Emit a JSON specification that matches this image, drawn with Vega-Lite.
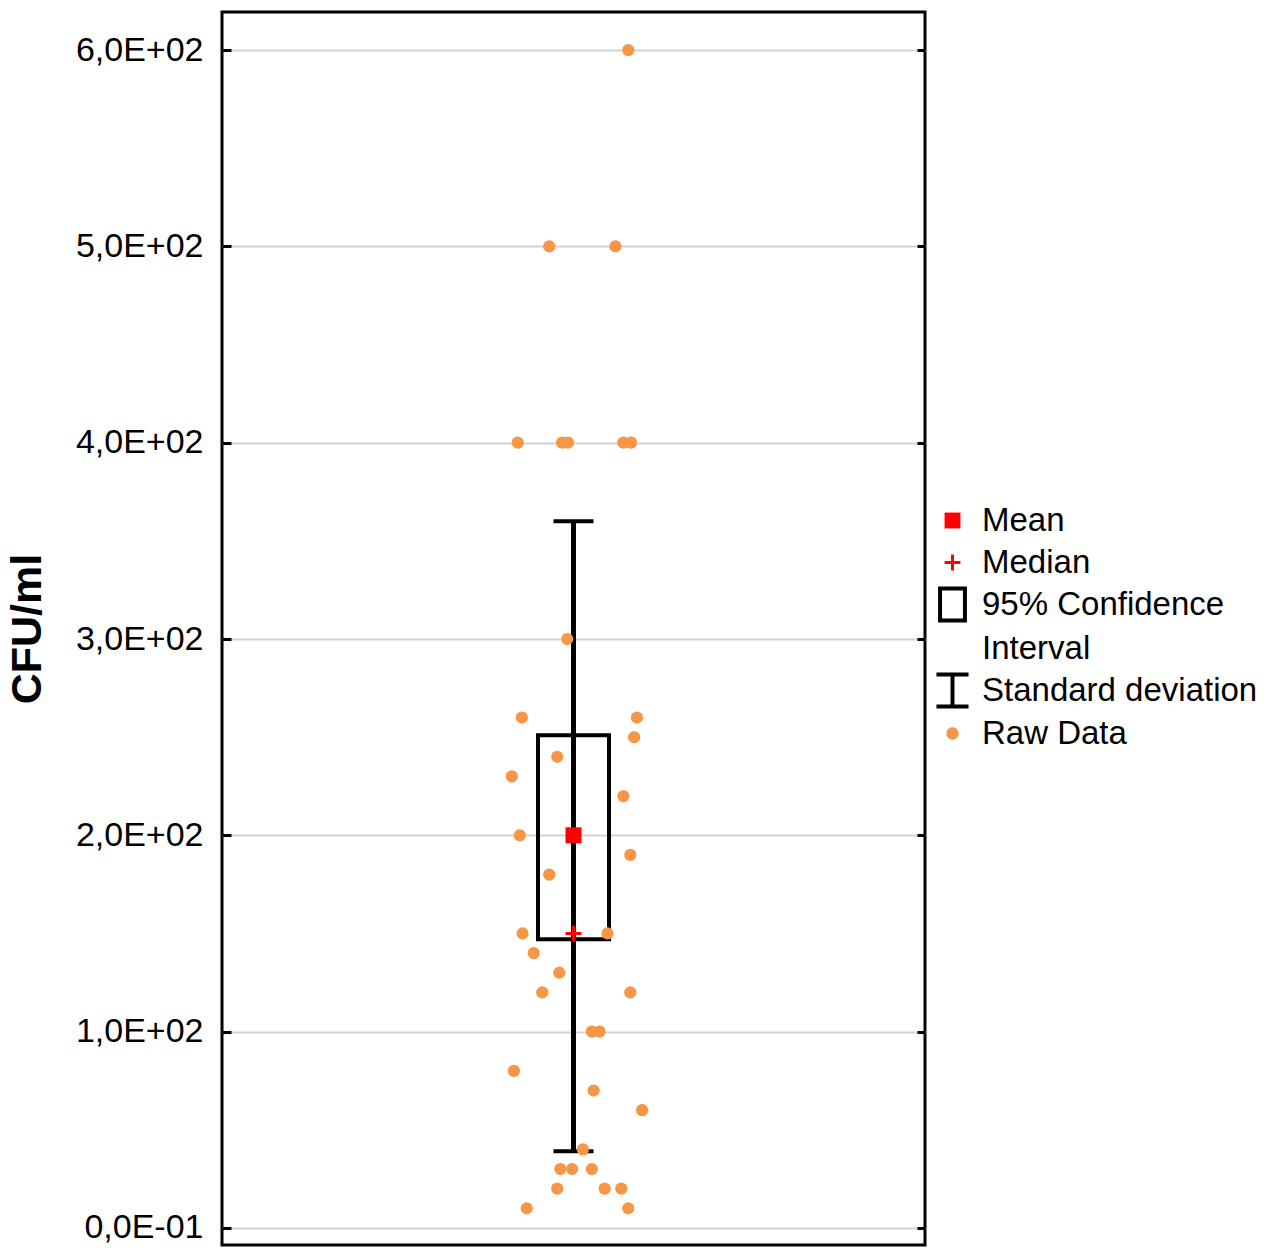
{
  "$schema": "https://vega.github.io/schema/vega-lite/v6.json",
  "autosize": {"type": "none"},
  "padding": {"left": 222, "top": 12, "right": 360, "bottom": 3},
  "width": 703,
  "height": 1233,
  "config": {
    "view": {"stroke": "black", "strokeWidth": 3},
    "font": "Liberation Sans",
    "style": {"guide-label": {"lineHeight": 44}}
  },
  "datasets": {
    "raw": [
      {"jitter": 0.158, "cfu": 600},
      {"jitter": -0.070, "cfu": 500},
      {"jitter": 0.121, "cfu": 500},
      {"jitter": -0.161, "cfu": 400},
      {"jitter": -0.033, "cfu": 400},
      {"jitter": -0.016, "cfu": 400},
      {"jitter": 0.144, "cfu": 400},
      {"jitter": 0.166, "cfu": 400},
      {"jitter": -0.018, "cfu": 300},
      {"jitter": -0.149, "cfu": 260},
      {"jitter": 0.183, "cfu": 260},
      {"jitter": 0.175, "cfu": 250},
      {"jitter": -0.047, "cfu": 240},
      {"jitter": -0.178, "cfu": 230},
      {"jitter": 0.144, "cfu": 220},
      {"jitter": -0.155, "cfu": 200},
      {"jitter": 0.164, "cfu": 190},
      {"jitter": -0.070, "cfu": 180},
      {"jitter": -0.147, "cfu": 150},
      {"jitter": 0.098, "cfu": 150},
      {"jitter": -0.115, "cfu": 140},
      {"jitter": -0.041, "cfu": 130},
      {"jitter": -0.090, "cfu": 120},
      {"jitter": 0.164, "cfu": 120},
      {"jitter": 0.053, "cfu": 100},
      {"jitter": 0.075, "cfu": 100},
      {"jitter": -0.172, "cfu": 80},
      {"jitter": 0.058, "cfu": 70},
      {"jitter": 0.198, "cfu": 60},
      {"jitter": 0.027, "cfu": 40},
      {"jitter": -0.038, "cfu": 30},
      {"jitter": -0.004, "cfu": 30},
      {"jitter": 0.053, "cfu": 30},
      {"jitter": -0.047, "cfu": 20},
      {"jitter": 0.090, "cfu": 20},
      {"jitter": 0.138, "cfu": 20},
      {"jitter": -0.135, "cfu": 10},
      {"jitter": 0.158, "cfu": 10}
    ],
    "summary": [
      {"mean": 200, "median": 150, "ci_low": 147, "ci_high": 251, "sd_low": 39, "sd_high": 360}
    ],
    "legend": [
      {"series": "Mean"},
      {"series": "Median"},
      {"series": "95% Confidence Interval"},
      {"series": "Standard deviation"},
      {"series": "Raw Data"}
    ]
  },
  "layer": [
    {
      "data": {"name": "summary"},
      "mark": {"type": "bar", "width": 71, "fill": "transparent", "stroke": "black", "strokeWidth": 4},
      "encoding": {
        "x": {"datum": 0, "type": "quantitative", "scale": {"domain": [-1, 1], "nice": false, "zero": false}, "axis": null},
        "y": {
          "field": "ci_low", "type": "quantitative",
          "scale": {"domain": [-8.7, 619.4], "nice": false, "zero": false},
          "axis": {
            "orient": "left",
            "values": [0, 100, 200, 300, 400, 500, 600],
            "labelExpr": "datum.value == 0 ? '0,0E-01' : (datum.value / 100) + ',0E+02'",
            "labelFont": "Liberation Sans",
            "labelFontSize": 34,
            "labelColor": "black",
            "labelPadding": 28,
            "tickSize": -9,
            "tickWidth": 3,
            "tickColor": "black",
            "domain": false,
            "grid": true,
            "gridColor": "#d3d3d3",
            "gridWidth": 2,
            "title": "CFU/ml",
            "titleFont": "Liberation Sans",
            "titleFontSize": 43,
            "titleFontWeight": "bold",
            "titleColor": "black",
            "titlePadding": 26
          }
        },
        "y2": {"field": "ci_high"}
      }
    },
    {
      "data": {"name": "summary"},
      "mark": {"type": "rule", "stroke": "black", "strokeWidth": 5},
      "encoding": {
        "x": {"datum": 0, "type": "quantitative"},
        "y": {"field": "sd_low", "type": "quantitative", "axis": null},
        "y2": {"field": "sd_high"}
      }
    },
    {
      "data": {"name": "summary"},
      "mark": {"type": "tick", "orient": "horizontal", "color": "black", "size": 40, "thickness": 4, "opacity": 1},
      "encoding": {
        "x": {"datum": 0, "type": "quantitative"},
        "y": {"field": "sd_high", "type": "quantitative", "axis": null}
      }
    },
    {
      "data": {"name": "summary"},
      "mark": {"type": "tick", "orient": "horizontal", "color": "black", "size": 40, "thickness": 4, "opacity": 1},
      "encoding": {
        "x": {"datum": 0, "type": "quantitative"},
        "y": {"field": "sd_low", "type": "quantitative", "axis": null}
      }
    },
    {
      "data": {"name": "raw"},
      "mark": {"type": "point", "shape": "circle", "filled": true, "size": 150, "color": "#F79646", "opacity": 1},
      "encoding": {
        "x": {"field": "jitter", "type": "quantitative"},
        "y": {
          "field": "cfu", "type": "quantitative",
          "axis": {
            "orient": "right",
            "values": [0, 100, 200, 300, 400, 500, 600],
            "labels": false,
            "tickSize": -8,
            "tickWidth": 3,
            "tickColor": "black",
            "domain": false,
            "grid": false,
            "title": null
          }
        }
      }
    },
    {
      "data": {"name": "summary"},
      "mark": {"type": "point", "shape": "square", "filled": true, "size": 256, "color": "#FF0000", "opacity": 1},
      "encoding": {
        "x": {"datum": 0, "type": "quantitative"},
        "y": {"field": "mean", "type": "quantitative", "axis": null}
      }
    },
    {
      "data": {"name": "summary"},
      "mark": {"type": "point", "shape": "M-1,0H1M0,-1V1", "filled": false, "size": 256, "stroke": "#FF0000", "strokeWidth": 3, "opacity": 1},
      "encoding": {
        "x": {"datum": 0, "type": "quantitative"},
        "y": {"field": "median", "type": "quantitative", "axis": null}
      }
    },
    {
      "data": {"name": "legend"},
      "transform": [{"filter": "false"}],
      "mark": {"type": "point", "filled": true, "opacity": 1},
      "encoding": {
        "color": {
          "field": "series", "type": "nominal",
          "scale": {
            "domain": ["Mean", "Median", "95% Confidence Interval", "Standard deviation", "Raw Data"],
            "range": ["#FF0000", "#FF0000", "black", "black", "#F79646"]
          },
          "legend": {
            "orient": "none",
            "legendX": 712,
            "legendY": 490,
            "title": null,
            "padding": 0,
            "symbolSize": 1300,
            "symbolStrokeWidth": 0,
            "symbolOpacity": 1,
            "labelFont": "Liberation Sans",
            "labelFontSize": 33,
            "labelColor": "black",
            "labelOffset": 11,
            "labelLimit": 400,
            "rowPadding": 6,
            "labelExpr": "datum.label == '95% Confidence Interval' ? ['95% Confidence', 'Interval'] : datum.label"
          }
        },
        "shape": {
          "field": "series", "type": "nominal",
          "scale": {
            "domain": ["Mean", "Median", "95% Confidence Interval", "Standard deviation", "Raw Data"],
            "range": [
              "M-0.44,-0.44H0.44V0.44H-0.44Z",
              "M-0.44,-0.083H-0.083V-0.44H0.083V-0.083H0.44V0.083H0.083V0.44H-0.083V0.083H-0.44Z",
              "M-0.8,-1H0.8V1H-0.8ZM-0.58,-0.78V0.78H0.58V-0.78Z",
              "M-0.89,-1H0.89V-0.78H0.11V0.78H0.89V1H-0.89V0.78H-0.11V-0.78H-0.89Z",
              "M-0.34,0A0.34,0.34 0 1,1 0.34,0A0.34,0.34 0 1,1 -0.34,0Z"
            ]
          }
        }
      }
    }
  ],
  "resolve": {"axis": {"y": "independent"}}
}
